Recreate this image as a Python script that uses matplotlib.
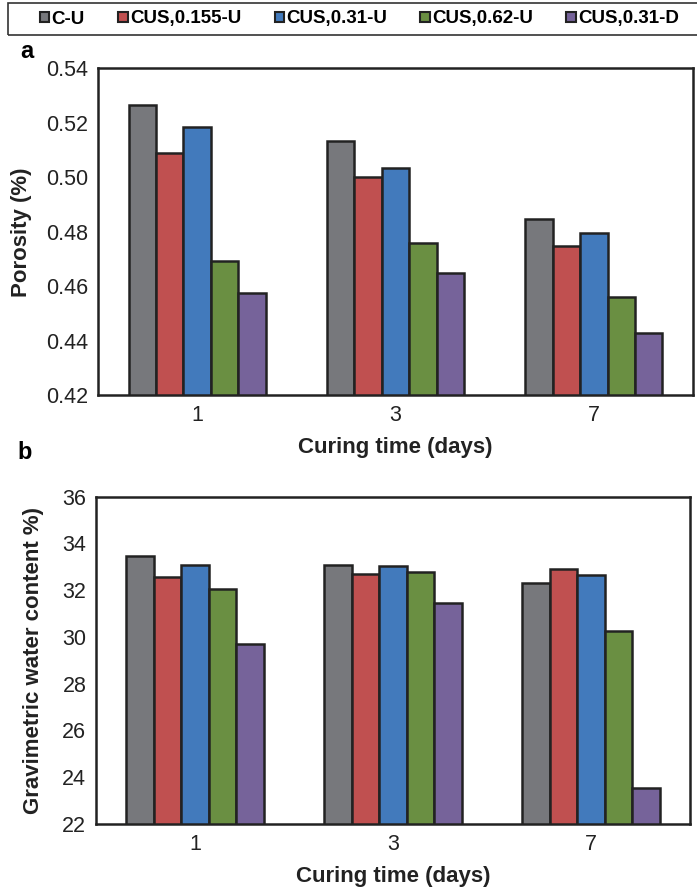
import numpy as np
import matplotlib
matplotlib.use('Agg')
import matplotlib.pyplot as plt
from matplotlib.patches import Patch, Rectangle
import matplotlib.ticker as mticker

plt.rcParams['font.family'] = ['Liberation Sans', 'DejaVu Sans']

# ── Data ────────────────────────────────────────────────────────────────────
days = ['1', '3', '7']
series = ['C-U', 'CUS,0.155-U', 'CUS,0.31-U', 'CUS,0.62-U', 'CUS,0.31-D']
colors = ['#77787C', '#C05050', '#427ABC', '#6A8F42', '#76639A']

porosity = [
    [0.5265, 0.5134, 0.4847],   # C-U
    [0.5088, 0.5002, 0.4748],   # CUS,0.155-U
    [0.5183, 0.5035, 0.4794],   # CUS,0.31-U
    [0.4694, 0.4758, 0.4560],   # CUS,0.62-U
    [0.4577, 0.4650, 0.4427],   # CUS,0.31-D
]
water = [
    [33.48, 33.08, 32.31],
    [32.55, 32.68, 32.90],
    [33.09, 33.04, 32.65],
    [32.04, 32.80, 30.24],
    [29.69, 31.47, 23.53],
]

W, H = 697, 892
fig = plt.figure(figsize=(W / 100, H / 100), dpi=100)

def px_axes(left, top, right, bottom):
    return fig.add_axes([left / W, 1 - bottom / H, (right - left) / W, (bottom - top) / H])

ax1 = px_axes(98, 68.3, 693, 395.3)
ax2 = px_axes(96, 496.7, 690, 824)

bar_w = 0.1384
x = np.arange(len(days))
edge = '#222222'

def draw(ax, data, ylim, yticks, fmt, ylabel, ylab_x):
    for i, vals in enumerate(data):
        ax.bar(x + (i - 2) * bar_w, np.array(vals) - ylim[0], bar_w, bottom=ylim[0],
               color=colors[i], edgecolor=edge, linewidth=1.8, zorder=3)
    ax.set_xlim(-0.5, 2.5)
    ax.set_ylim(*ylim)
    ax.set_yticks(yticks)
    ax.yaxis.set_major_formatter(mticker.FormatStrFormatter(fmt))
    ax.set_xticks(x)
    ax.set_xticklabels(days)
    ax.tick_params(length=0, labelsize=15.5, pad=7, colors='#222222')
    for s in ax.spines.values():
        s.set_linewidth(1.8)
        s.set_color(edge)
    ax.set_ylabel(ylabel, fontsize=16, fontweight='bold', color='#222222')
    ax.yaxis.set_label_coords(ylab_x, 0.5)
    ax.set_xlabel('Curing time (days)', fontsize=16, fontweight='bold',
                  color='#222222', labelpad=8)

draw(ax1, porosity, (0.42, 0.54), np.arange(0.42, 0.5401, 0.02), '%.2f',
     'Porosity (%)', -0.111)
draw(ax2, water, (22, 36), np.arange(22, 37, 2), '%d',
     'Gravimetric water content %)', -0.087)

# panel letters
fig.text(20 / W, 1 - 52 / H, 'a', fontsize=17, fontweight='bold', va='center', ha='left')
fig.text(17 / W, 1 - 453 / H, 'b', fontsize=17, fontweight='bold', va='center', ha='left')

# ── Legend with box across the top ──────────────────────────────────────────
fig.patches.append(Rectangle((8 / W, 1 - 35 / H), (710 - 8) / W, 32 / H,
                             transform=fig.transFigure, fill=False,
                             edgecolor='#333333', linewidth=1.2))
handles = [Patch(facecolor=c, edgecolor=edge, linewidth=1.5) for c in colors]
fig.legend(handles, series, loc='center left', bbox_to_anchor=(40 / W, 1 - 19 / H),
           ncol=5, frameon=False, borderpad=0, borderaxespad=0,
           handlelength=0.5, handleheight=0.5, handletextpad=0.12,
           columnspacing=1.78, prop={'size': 13.5, 'weight': 'bold'})

fig.savefig('out.png', dpi=100, facecolor='white')
